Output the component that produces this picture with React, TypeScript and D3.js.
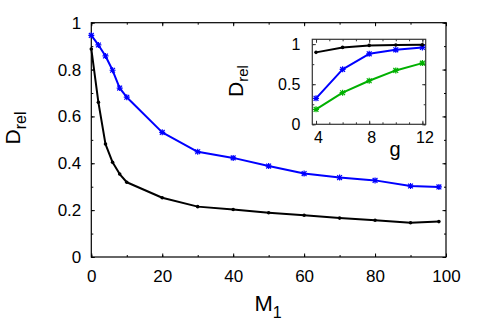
import { useRef, useEffect } from 'react'
import * as d3 from 'd3'

const W = 480
const H = 336

// main panel: M1 vs D_rel
const m1 = [0, 2, 4, 6, 8, 10, 20, 30, 40, 50, 60, 70, 80, 90, 98]
const blackMain = [0.888, 0.66, 0.482, 0.404, 0.354, 0.319, 0.253, 0.215, 0.203, 0.189, 0.178, 0.166, 0.157, 0.146, 0.151]
const blueMain = [0.946, 0.905, 0.858, 0.797, 0.721, 0.682, 0.532, 0.449, 0.423, 0.388, 0.356, 0.339, 0.327, 0.303, 0.299]

// inset: g vs D_rel
const gVals = [4, 6, 8, 10, 12]
const blackInset = [0.897, 0.959, 0.984, 0.988, 0.991]
const blueInset = [0.324, 0.685, 0.879, 0.929, 0.959]
const greenInset = [0.187, 0.394, 0.543, 0.672, 0.763]

const mainXTicks = [0, 20, 40, 60, 80, 100]
const mainYTicks = [0, 0.2, 0.4, 0.6, 0.8, 1]
const insetXTicks = [4, 8, 12]
const insetYTicks = [0, 0.5, 1]

const font = '"Liberation Sans", Arial, Helvetica, sans-serif'

const App = () => {
  const svgRef = useRef<SVGSVGElement>(null)

  useEffect(() => {
    const svg = d3.select(svgRef.current)
    svg.selectAll('*').remove()

    const x = d3.scaleLinear().domain([0, 100]).range([91.3, 446])
    const y = d3.scaleLinear().domain([0, 1]).range([257, 22.7])

    const ix = d3.scaleLinear().domain([3.72, 12.25]).range([312.3, 425.7])
    const iy = d3.scaleLinear().domain([0, 1.06]).range([124.3, 39.3])

    const drawFrame = (xs: any, ys: any, opts: any) => {
      const g = svg.append('g').attr('font-family', font)
      const [x0, x1] = xs.range()
      const [y0, y1] = ys.range()
      const minorXs = d3.range(opts.xMinorStart, opts.xMinorEnd + 1e-9, opts.xMinor)
      const minorY = d3.range(0, ys.domain()[1] + 1e-9, opts.yMinor).map((v: number) => +v.toFixed(4))

      // minor ticks, all four sides, inward
      g.append('g').attr('transform', `translate(0,${y0})`)
        .call(d3.axisBottom(xs).tickValues(minorXs).tickSize(-2).tickFormat(() => ''))
      g.append('g').attr('transform', `translate(0,${y1})`)
        .call(d3.axisTop(xs).tickValues(minorXs).tickSize(-2).tickFormat(() => ''))
      g.append('g').attr('transform', `translate(${x0},0)`)
        .call(d3.axisLeft(ys).tickValues(minorY).tickSize(-2).tickFormat(() => ''))
      g.append('g').attr('transform', `translate(${x1},0)`)
        .call(d3.axisRight(ys).tickValues(minorY).tickSize(-2).tickFormat(() => ''))

      // major ticks with labels
      g.append('g').attr('transform', `translate(0,${y0})`)
        .call(d3.axisBottom(xs).tickValues(opts.xTicks).tickSize(-3.5).tickPadding(opts.xPad).tickFormat(d3.format('')))
        .selectAll('text').attr('font-size', opts.fs).attr('fill', '#000').attr('dx', opts.xdx)
      g.append('g').attr('transform', `translate(0,${y1})`)
        .call(d3.axisTop(xs).tickValues(opts.xTicks).tickSize(-3.5).tickFormat(() => ''))
      g.append('g').attr('transform', `translate(${x0},0)`)
        .call(d3.axisLeft(ys).tickValues(opts.yTicks).tickSize(-3.5).tickPadding(opts.yPad).tickFormat(d3.format('')))
        .selectAll('text').attr('font-size', opts.fs).attr('fill', '#000')
      g.append('g').attr('transform', `translate(${x1},0)`)
        .call(d3.axisRight(ys).tickValues(opts.yTicks).tickSize(-3.5).tickFormat(() => ''))

      g.selectAll('.domain').remove()
      g.selectAll('line').attr('stroke', opts.color).attr('stroke-width', 1)

      g.append('rect')
        .attr('x', x0).attr('y', y1)
        .attr('width', x1 - x0).attr('height', y0 - y1)
        .attr('fill', 'none').attr('stroke', opts.color).attr('stroke-width', 1.2)
    }

    const drawSeries = (xs: any, ys: any, xv: number[], yv: number[], color: string, marker: string) => {
      const pts = xv.map((v, i) => [xs(v), ys(yv[i])] as [number, number])
      svg.append('path')
        .attr('d', d3.line()(pts))
        .attr('fill', 'none').attr('stroke', color)
        .attr('stroke-width', 2).attr('stroke-linejoin', 'round')
      const mg = svg.append('g')
      pts.forEach(([px, py]) => {
        if (marker === 'dot') {
          mg.append('circle').attr('cx', px).attr('cy', py).attr('r', 1.8).attr('fill', color)
        } else {
          const s = 2.4
          mg.append('path')
            .attr('d', `M${px - s},${py - s}L${px + s},${py + s}M${px - s},${py + s}L${px + s},${py - s}M${px - s - 0.6},${py}L${px + s + 0.6},${py}M${px},${py - s - 0.6}L${px},${py + s + 0.6}`)
            .attr('stroke', color).attr('stroke-width', 1.2).attr('fill', 'none')
        }
      })
    }

    // main plot
    drawFrame(x, y, {
      xTicks: mainXTicks, yTicks: mainYTicks, xMinor: 10, yMinor: 0.1,
      xMinorStart: 0, xMinorEnd: 100,
      fs: 17, xPad: 13, yPad: 10, xdx: 0, color: '#000'
    })
    drawSeries(x, y, m1, blueMain, '#0000ff', 'x')
    drawSeries(x, y, m1, blackMain, '#000', 'dot')

    // inset
    svg.append('rect')
      .attr('x', ix.range()[0]).attr('y', iy.range()[1])
      .attr('width', ix.range()[1] - ix.range()[0]).attr('height', iy.range()[0] - iy.range()[1])
      .attr('fill', '#fff')
    drawFrame(ix, iy, {
      xTicks: insetXTicks, yTicks: insetYTicks, xMinor: 1, yMinor: 0.25,
      xMinorStart: 4, xMinorEnd: 12,
      fs: 16, xPad: 7, yPad: 12, xdx: 2, color: '#333'
    })
    drawSeries(ix, iy, gVals, greenInset, '#00b000', 'x')
    drawSeries(ix, iy, gVals, blueInset, '#0000ff', 'x')
    drawSeries(ix, iy, gVals, blackInset, '#000', 'dot')

    // axis titles
    const ylab = svg.append('text')
      .attr('transform', 'translate(20,128) rotate(-90)')
      .attr('text-anchor', 'middle').attr('font-family', font).attr('font-size', 21)
    ylab.append('tspan').text('D')
    ylab.append('tspan').attr('font-size', 16).attr('dy', 6).text('rel')

    const xlab = svg.append('text')
      .attr('x', 268).attr('y', 311)
      .attr('text-anchor', 'middle').attr('font-family', font).attr('font-size', 22)
    xlab.append('tspan').text('M')
    xlab.append('tspan').attr('font-size', 16).attr('dy', 7).text('1')

    const iylab = svg.append('text')
      .attr('transform', 'translate(243,81) rotate(-90)')
      .attr('text-anchor', 'middle').attr('font-family', font).attr('font-size', 21)
    iylab.append('tspan').text('D')
    iylab.append('tspan').attr('font-size', 15).attr('dy', 5).text('rel')

    svg.append('text')
      .attr('x', 395).attr('y', 156)
      .attr('text-anchor', 'middle').attr('font-family', font).attr('font-size', 20)
      .text('g')
  }, [])

  return (
    <svg ref={svgRef} width={W} height={H}
      style={{ position: 'absolute', left: 0, top: 0, background: '#fff' }} />
  )
}

export default App
